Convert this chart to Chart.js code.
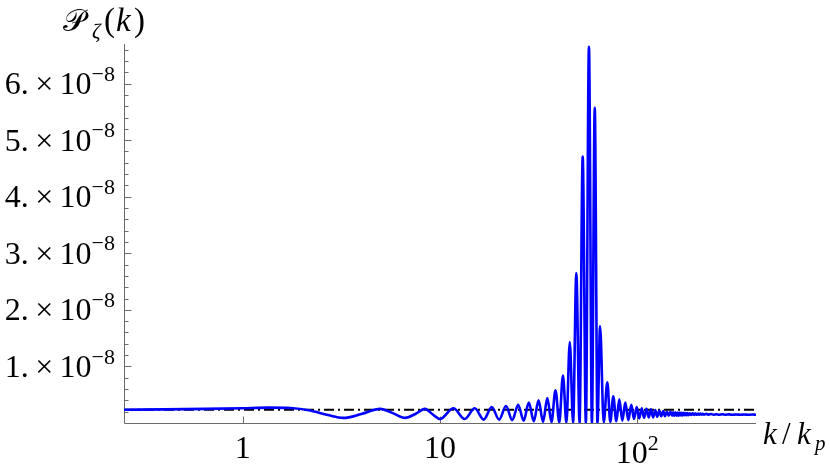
<!DOCTYPE html>
<html><head><meta charset="utf-8">
<script src="https://cdn.jsdelivr.net/npm/chart.js@4/dist/chart.umd.min.js"></script>
<style>html,body{margin:0;padding:0;background:#fff;}#wrap{width:830px;height:472px;}</style>
</head><body><div id="wrap"><canvas id="c" width="830" height="472"></canvas></div>
<script>
// k / k_p values (x) and P_zeta(k) in units of 1e-8 (y)
const kValues = [
  0.25, 0.40, 0.65, 1.0, 1.35, 1.75, 2.2, 2.7, 3.24, 4.0, 4.97, 5.8, 6.65, 7.5, 8.39, 9.2, 10.0,
  11.7, 13.35, 15.0, 16.65, 18.3, 19.95, 21.6, 23.25, 24.9, 26.55, 28.2, 29.9, 31.6, 33.3,
  35.0, 36.75, 38.5, 40.25, 42.0, 43.75, 45.5, 47.3, 49.1, 51.0, 52.9, 54.9, 56.9, 58.9,
  60.9, 62.85, 64.8, 67.6, 70.5, 73.0, 75.6, 78.3, 81.1, 84.0, 87.0, 90.1, 93.3, 96.3,
  99.4, 102.3, 105.4, 108.3, 111.4, 114.3, 117.4, 120.3, 123.4, 126.3, 129.4, 132.3, 135.4,
  138.3, 141.4, 144.3, 147.4, 150.3, 152, 154, 156, 158, 160, 162, 164, 166, 168, 170, 172,
  174, 176, 178, 180, 182, 185, 188, 191, 194, 197, 200, 203, 206, 209, 212, 215, 218,
  224, 230, 237, 244, 252, 260, 270, 280, 292, 304, 318, 332, 348, 365, 382, 400
];
const pZeta = [
  0.235, 0.24, 0.25, 0.262, 0.272, 0.265, 0.22, 0.14, 0.09, 0.16, 0.25, 0.17, 0.09, 0.16, 0.25, 0.15, 0.07,
  0.26, 0.07, 0.26, 0.06, 0.28, 0.06, 0.30, 0.05, 0.32, 0.04, 0.36, 0.03, 0.40, 0.02,
  0.44, 0.015, 0.58, 0.01, 0.84, 0.005, 1.43, 0, 2.65, 0, 4.71, 0, 6.65, 0,
  5.57, 0, 1.71, 0.01, 0.72, 0.02, 0.47, 0.03, 0.42, 0.04, 0.36, 0.05, 0.32, 0.07,
  0.28, 0.08, 0.26, 0.09, 0.25, 0.10, 0.24, 0.10, 0.23, 0.11, 0.22, 0.12, 0.21,
  0.12, 0.20, 0.13, 0.20, 0.13, 0.19, 0.125, 0.19, 0.13, 0.185, 0.13, 0.185, 0.135, 0.18, 0.135, 0.18,
  0.14, 0.175, 0.14, 0.175, 0.14, 0.172, 0.142, 0.17, 0.143, 0.168, 0.145, 0.167, 0.146, 0.165, 0.147, 0.163, 0.148,
  0.161, 0.148, 0.158, 0.147, 0.156, 0.146, 0.154, 0.146, 0.152, 0.145, 0.151, 0.145, 0.150, 0.145, 0.149, 0.146
];
const referenceLevel = 0.235;   // dash-dot line, units of 1e-8
const xRange = [0.25, 400];
const yRange = [0, 6.7];
const yTickValues = [1, 2, 3, 4, 5, 6];
const yTickLabels = ['1.', '2.', '3.', '4.', '5.', '6.'];
const yTickExponent = '\u22128';
const xTickValues = [1, 10, 100];
const xTickLabels = ['1', '10', '10'];
const xTickSups = ['', '', '2'];

const SERIF = '"Liberation Serif", "DejaVu Serif", serif';
const axisColor = '#6b6b6b';
const tickFont = 32, supFont = 22;

const axesPlugin = {
  id: 'mmaAxes',
  beforeDatasetsDraw(chart) {
    const { ctx, chartArea: a, scales: { x, y } } = chart;
    ctx.save();
    ctx.strokeStyle = axisColor;
    ctx.lineWidth = 1;
    const x0 = Math.round(a.left) + 0.5;
    const y0 = Math.round(y.getPixelForValue(0)) + 0.5;
    ctx.beginPath();
    ctx.moveTo(x0, a.top); ctx.lineTo(x0, y0); ctx.lineTo(a.right, y0);
    ctx.stroke();
    for (let i = 1; i <= 33; i++) {
      const v = i * 0.2;
      const py = Math.round(y.getPixelForValue(v)) + 0.5;
      const major = (i % 5 === 0);
      ctx.beginPath(); ctx.moveTo(x0, py); ctx.lineTo(x0 + (major ? 7 : 4), py); ctx.stroke();
    }
    xTickValues.forEach(v => {
      const px = Math.round(x.getPixelForValue(v)) + 0.5;
      ctx.beginPath(); ctx.moveTo(px, y0); ctx.lineTo(px, y0 - 7); ctx.stroke();
    });
    ctx.restore();
  },
  afterDraw(chart) {
    const { ctx, scales: { x, y } } = chart;
    ctx.save();
    ctx.fillStyle = '#000';
    ctx.textBaseline = 'alphabetic';
    ctx.textAlign = 'left';
    yTickValues.forEach((v, i) => {
      const py = y.getPixelForValue(v);
      const main = yTickLabels[i] + '\u2009\u00d7\u200910';
      ctx.font = supFont + 'px ' + SERIF;
      const w2 = ctx.measureText(yTickExponent).width;
      ctx.font = tickFont + 'px ' + SERIF;
      const w1 = ctx.measureText(main).width;
      const right = 115;
      const base = py + tickFont * 0.33;
      ctx.fillText(main, right - w2 - w1, base);
      ctx.font = supFont + 'px ' + SERIF;
      ctx.fillText(yTickExponent, right - w2, base - tickFont * 0.42);
    });
    xTickValues.forEach((v, i) => {
      const px = x.getPixelForValue(v);
      ctx.font = tickFont + 'px ' + SERIF;
      const w1 = ctx.measureText(xTickLabels[i]).width;
      ctx.font = supFont + 'px ' + SERIF;
      const w2 = xTickSups[i] ? ctx.measureText(xTickSups[i]).width : 0;
      const left = px - (w1 + w2) / 2;
      const base = xTickSups[i] ? 463 : 458;
      ctx.font = tickFont + 'px ' + SERIF;
      ctx.fillText(xTickLabels[i], left, base);
      if (xTickSups[i]) {
        ctx.font = supFont + 'px ' + SERIF;
        ctx.fillText(xTickSups[i], left + w1, base - tickFont * 0.42);
      }
    });
    // axis label k/k_p
    ctx.font = 'italic 31px ' + SERIF;
    ctx.fillText('k', 763, 444);
    ctx.font = '31px ' + SERIF;
    ctx.fillText('/', 782, 444);
    ctx.font = 'italic 31px ' + SERIF;
    ctx.fillText('k', 797, 444);
    ctx.font = 'italic 21px ' + SERIF;
    ctx.fillText('p', 815, 450);
    // axis label P_zeta(k)
    ctx.font = '31px ' + SERIF;
    ctx.fillText('\u{1D4AB}', 63, 31);
    ctx.font = 'italic 21px ' + SERIF;
    ctx.fillText('\u03B6', 92, 38);
    ctx.font = '33px ' + SERIF;
    ctx.fillText('(', 104, 31);
    ctx.font = 'italic 33px ' + SERIF;
    ctx.fillText('k', 116, 31);
    ctx.font = '33px ' + SERIF;
    ctx.fillText(')', 134, 31);
    ctx.restore();
  }
};

new Chart(document.getElementById('c').getContext('2d'), {
  type: 'line',
  data: {
    datasets: [
      {
        data: kValues.map((k, i) => ({ x: k, y: pZeta[i] })),
        borderColor: '#0000ff', borderWidth: 2.6, pointRadius: 0,
        cubicInterpolationMode: 'monotone', fill: false
      },
      {
        data: [{ x: xRange[0], y: referenceLevel }, { x: xRange[1], y: referenceLevel }],
        borderColor: '#000', borderWidth: 2, borderDash: [10, 4, 2, 4], pointRadius: 0, fill: false
      }
    ]
  },
  options: {
    responsive: false, animation: false, devicePixelRatio: 1,
    layout: { padding: { left: 124, right: 74, top: 44, bottom: 49 } },
    plugins: { legend: { display: false }, tooltip: { enabled: false } },
    scales: {
      x: { type: 'logarithmic', min: xRange[0], max: xRange[1], display: false },
      y: { type: 'linear', min: yRange[0], max: yRange[1], display: false }
    }
  },
  plugins: [axesPlugin]
});
</script></body></html>
